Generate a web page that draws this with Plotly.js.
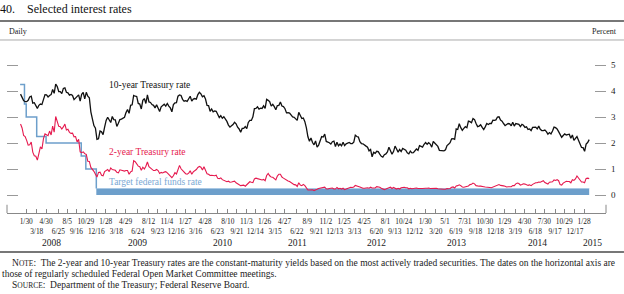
<!DOCTYPE html>
<html><head><meta charset="utf-8">
<script src="https://cdn.plot.ly/plotly-3.0.1.min.js"></script>
<style>html,body{margin:0;padding:0;background:#fff;}#chart{width:624px;height:294px;}</style>
</head><body><div id="chart"></div>
<script>
// Weekly (Friday) readings, by year; first Friday of each year given
const firstFridays = ['2008-01-04','2009-01-02','2010-01-01','2011-01-07','2012-01-06','2013-01-04','2014-01-03','2015-01-02'];

const tenYr2008 = [3.88,3.78,3.63,3.59,3.59,3.64,3.77,3.80,3.53,3.55,3.45,3.33,3.45,3.50,3.48,3.72,3.86,3.85,3.77,3.83,3.86,4.06,3.91,4.27,4.17,3.98,3.98,3.90,4.10,4.12,3.95,3.93,3.84,3.87,3.83,3.67,3.72,3.80,3.85,3.61,3.87,3.95,3.70,3.95,3.80,3.74,3.20,2.93,2.67,2.57,2.14,2.16];
const tenYr2009 = [2.46,2.43,2.32,2.61,2.87,2.99,2.89,2.79,3.02,2.90,2.89,2.64,2.76,2.90,2.92,2.95,2.99,3.17,3.29,3.14,3.45,3.47,3.83,3.80,3.79,3.52,3.50,3.31,3.64,3.71,3.52,3.85,3.58,3.56,3.48,3.45,3.35,3.47,3.32,3.21,3.39,3.44,3.49,3.42,3.52,3.42,3.35,3.20,3.48,3.54,3.55,3.80];
const tenYr2010 = [3.85,3.83,3.68,3.61,3.63,3.60,3.69,3.80,3.61,3.69,3.71,3.69,3.86,3.95,3.89,3.78,3.82,3.69,3.45,3.44,3.22,3.31,3.20,3.23,3.22,3.12,2.98,3.05,2.95,3.01,2.94,2.83,2.69,2.61,2.66,2.71,2.80,2.74,2.61,2.54,2.41,2.56,2.56,2.63,2.55,2.79,2.87,2.87,3.01,3.32,3.33,3.39,3.30];
const tenYr2011 = [3.34,3.33,3.43,3.33,3.68,3.64,3.59,3.42,3.49,3.40,3.28,3.44,3.45,3.58,3.42,3.40,3.32,3.16,3.17,3.15,3.07,3.00,2.99,2.94,2.87,3.18,3.03,2.94,2.96,2.82,2.58,2.24,2.07,2.19,2.02,1.93,2.08,1.84,1.92,2.08,2.25,2.23,2.34,2.06,2.04,2.01,1.96,2.05,2.07,1.86,2.03,1.89];
const tenYr2012 = [1.96,1.89,2.03,1.90,1.97,2.00,2.02,1.98,1.98,2.03,2.30,2.25,2.23,2.05,1.98,1.97,1.94,1.88,1.84,1.70,1.75,1.47,1.64,1.60,1.68,1.67,1.57,1.49,1.46,1.55,1.58,1.66,1.84,1.69,1.57,1.67,1.88,1.77,1.65,1.75,1.67,1.79,1.76,1.72,1.62,1.58,1.69,1.62,1.63,1.72,1.77,1.72];
const tenYr2013 = [1.90,1.87,1.84,1.95,2.02,1.95,2.01,1.96,1.84,2.06,1.99,1.93,1.87,1.72,1.72,1.70,1.70,1.74,1.90,1.95,2.01,2.16,2.17,2.14,2.54,2.52,2.74,2.59,2.49,2.56,2.63,2.59,2.84,2.82,2.78,2.94,2.90,2.75,2.63,2.65,2.70,2.60,2.52,2.62,2.75,2.71,2.75,2.75,2.88,2.87,2.89,3.00];
const tenYr2014 = [3.01,2.88,2.84,2.75,2.67,2.71,2.75,2.74,2.66,2.80,2.65,2.75,2.74,2.72,2.63,2.72,2.68,2.60,2.62,2.52,2.54,2.48,2.60,2.61,2.61,2.54,2.65,2.53,2.48,2.48,2.50,2.44,2.34,2.40,2.35,2.46,2.61,2.59,2.54,2.44,2.31,2.22,2.29,2.35,2.31,2.32,2.34,2.18,2.31,2.10,2.17,2.25];
const tenYr2015 = [2.11,1.98,1.83,1.82,1.68,1.96,2.02,2.13];

const twoYr2008 = [2.73,2.58,2.29,2.25,2.10,1.92,1.93,2.04,1.65,1.51,1.49,1.34,1.59,1.85,1.77,2.17,2.35,2.32,2.28,2.46,2.31,2.65,2.42,3.02,2.85,2.64,2.63,2.54,2.62,2.73,2.50,2.53,2.41,2.37,2.38,2.24,2.25,2.04,2.14,1.66,1.63,1.66,1.59,1.56,1.30,1.29,1.06,1.00,0.91,0.80,0.69,0.87];
const twoYr2009 = [0.88,0.76,0.74,0.90,0.94,0.98,0.90,1.04,0.98,0.95,0.95,0.87,0.85,0.97,0.95,0.93,0.92,0.94,0.94,0.80,0.89,0.92,1.32,1.28,1.17,1.11,1.09,0.95,1.07,1.00,1.11,1.27,1.09,1.03,0.97,0.94,0.94,0.98,0.94,0.83,0.87,0.85,0.88,0.90,0.85,0.80,0.74,0.67,0.74,0.86,0.81,1.00];
const twoYr2010 = [1.14,1.01,0.94,0.86,0.82,0.80,0.84,0.93,0.80,0.89,0.93,0.98,1.06,1.10,1.07,0.96,1.09,0.97,0.82,0.80,0.75,0.76,0.74,0.74,0.76,0.64,0.63,0.66,0.59,0.56,0.55,0.51,0.53,0.49,0.50,0.51,0.53,0.47,0.44,0.42,0.36,0.37,0.38,0.34,0.39,0.44,0.51,0.49,0.48,0.62,0.65,0.63,0.61];
const twoYr2011 = [0.60,0.58,0.60,0.55,0.75,0.83,0.74,0.69,0.68,0.62,0.58,0.73,0.80,0.80,0.69,0.65,0.61,0.56,0.54,0.52,0.48,0.43,0.40,0.39,0.33,0.47,0.38,0.36,0.41,0.36,0.27,0.19,0.19,0.20,0.20,0.17,0.21,0.22,0.25,0.27,0.28,0.29,0.30,0.24,0.23,0.25,0.27,0.27,0.23,0.23,0.29,0.24];
const twoYr2012 = [0.26,0.23,0.26,0.21,0.23,0.26,0.30,0.30,0.29,0.31,0.37,0.36,0.33,0.31,0.27,0.26,0.26,0.27,0.28,0.26,0.30,0.27,0.27,0.27,0.32,0.31,0.30,0.26,0.23,0.21,0.23,0.27,0.28,0.30,0.25,0.29,0.26,0.23,0.26,0.23,0.28,0.30,0.30,0.28,0.28,0.24,0.26,0.24,0.25,0.24,0.27,0.25];
const twoYr2013 = [0.26,0.25,0.25,0.27,0.26,0.26,0.27,0.25,0.25,0.27,0.25,0.26,0.24,0.23,0.22,0.23,0.22,0.22,0.25,0.24,0.25,0.30,0.31,0.27,0.35,0.36,0.39,0.36,0.31,0.30,0.32,0.32,0.35,0.40,0.41,0.46,0.43,0.36,0.34,0.34,0.34,0.34,0.32,0.31,0.31,0.30,0.29,0.28,0.30,0.32,0.35,0.39];
const twoYr2014 = [0.40,0.37,0.37,0.35,0.34,0.31,0.32,0.33,0.32,0.36,0.36,0.43,0.46,0.44,0.38,0.40,0.43,0.42,0.38,0.37,0.39,0.36,0.41,0.45,0.47,0.47,0.50,0.49,0.53,0.55,0.48,0.46,0.42,0.49,0.49,0.51,0.58,0.56,0.59,0.55,0.40,0.38,0.46,0.50,0.53,0.52,0.52,0.47,0.59,0.56,0.62,0.73];
const twoYr2015 = [0.66,0.58,0.50,0.50,0.47,0.64,0.65,0.63];

// Target federal funds rate (step) and 0 to 1/4 percent range
const ffrDates = ['2008-01-02','2008-01-22','2008-01-30','2008-03-18','2008-04-30','2008-10-08','2008-10-29','2008-12-16'];
const ffrTargets = [4.25,3.50,3.00,2.25,2.00,1.50,1.00,0.25];
const rangeDates = ['2008-12-16','2015-02-20'];
const rangeLow = [0,0];
const rangeHigh = [0.25,0.25];

// FOMC meeting dates (axis ticks)
const fomcDates = ['2008-01-30','2008-03-18','2008-04-30','2008-06-25','2008-08-05','2008-09-16','2008-10-29','2008-12-16',
'2009-01-28','2009-03-18','2009-04-29','2009-06-24','2009-08-12','2009-09-23','2009-11-04','2009-12-16',
'2010-01-27','2010-03-16','2010-04-28','2010-06-23','2010-08-10','2010-09-21','2010-11-03','2010-12-14',
'2011-01-26','2011-03-15','2011-04-27','2011-06-22','2011-08-09','2011-09-21','2011-11-02','2011-12-13',
'2012-01-25','2012-03-13','2012-04-25','2012-06-20','2012-08-01','2012-09-13','2012-10-24','2012-12-12',
'2013-01-30','2013-03-20','2013-05-01','2013-06-19','2013-07-31','2013-09-18','2013-10-30','2013-12-18',
'2014-01-29','2014-03-19','2014-04-30','2014-06-18','2014-07-30','2014-09-17','2014-10-29','2014-12-17',
'2015-01-28'];
const yearLabels = ['2008','2009','2010','2011','2012','2013','2014','2015'];
const yearLabelDates = ['2008-05-27','2009-06-21','2010-07-15','2011-06-23','2012-06-23','2013-06-24','2014-06-30','2015-03-05'];

const tenYrYears = [tenYr2008,tenYr2009,tenYr2010,tenYr2011,tenYr2012,tenYr2013,tenYr2014,tenYr2015];
const twoYrYears = [twoYr2008,twoYr2009,twoYr2010,twoYr2011,twoYr2012,twoYr2013,twoYr2014,twoYr2015];

function weeklyDates(start, n){
  const out=[]; const d0=new Date(start+'T12:00:00Z');
  for(let i=0;i<n;i++){const d=new Date(d0.getTime()+i*7*86400000); out.push(d.toISOString().slice(0,10));}
  return out;
}
function build(yearsArr){
  let xs=[],ys=[];
  yearsArr.forEach((arr,k)=>{xs=xs.concat(weeklyDates(firstFridays[k],arr.length)); ys=ys.concat(arr);});
  return {xs,ys};
}
const ten = build(tenYrYears), two = build(twoYrYears);

const tickText = fomcDates.map((d,i)=>{
  const p=d.split('-'); const s=(+p[1])+'/'+(+p[2]);
  return i%2===0 ? s : '\u00a0<br>'+s;
});

const SERIF = 'Liberation Serif, Times New Roman, serif';
const BLUE = '#6d9fcb', RED = '#e5194e';
const NOTEFONT = {family:SERIF,size:9.5,color:'#222'};

const traces = [
  {x:rangeDates, y:rangeLow, mode:'lines', line:{width:0,color:BLUE}, hoverinfo:'skip', showlegend:false},
  {x:rangeDates, y:rangeHigh, mode:'lines', fill:'tonexty', fillcolor:BLUE, line:{width:1,color:'#a9c8e4'}, hoverinfo:'skip', showlegend:false},
  {x:ffrDates, y:ffrTargets, mode:'lines', line:{shape:'hv', width:1.5, color:BLUE}, showlegend:false},
  {x:ten.xs, y:ten.ys, mode:'lines', line:{width:1.3, color:'#111'}, showlegend:false},
  {x:two.xs, y:two.ys, mode:'lines', line:{width:1.1, color:RED}, showlegend:false}
];

const annotations = [
  {text:'Daily', x:0, y:1.097, xref:'paper', yref:'paper', xanchor:'left', yanchor:'middle', showarrow:false, font:{family:SERIF,size:8,color:'#222'}},
  {text:'Percent', x:1.0217, y:1.097, xref:'paper', yref:'paper', xanchor:'right', yanchor:'middle', showarrow:false, font:{family:SERIF,size:8,color:'#222'}},
  {text:'10-year Treasury rate', x:'2009-02-04', y:4.23, xref:'x', yref:'y', xanchor:'left', yanchor:'middle', showarrow:false, font:{family:SERIF,size:9.5,color:'#111'}},
  {text:'2-year Treasury rate', x:'2009-02-04', y:1.65, xref:'x', yref:'y', xanchor:'left', yanchor:'middle', showarrow:false, font:{family:SERIF,size:9.5,color:RED}},
  {text:'Target federal funds rate', x:'2009-02-04', y:0.5, xref:'x', yref:'y', xanchor:'left', yanchor:'middle', showarrow:false, font:{family:SERIF,size:9.5,color:'#7aa8d4'}},
  {text:'N<span style="font-size:7.5px">OTE</span>:  The 2-year and 10-year Treasury rates are the constant-maturity yields based on the most actively traded securities. The dates on the horizontal axis are', x:0.005, y:-0.303, xref:'paper', yref:'paper', xanchor:'left', yanchor:'middle', showarrow:false, font:NOTEFONT},
  {text:'those of regularly scheduled Federal Open Market Committee meetings.', x:-0.0117, y:-0.3697, xref:'paper', yref:'paper', xanchor:'left', yanchor:'middle', showarrow:false, font:NOTEFONT},
  {text:'S<span style="font-size:7.5px">OURCE</span>:  Department of the Treasury; Federal Reserve Board.', x:0.005, y:-0.436, xref:'paper', yref:'paper', xanchor:'left', yanchor:'middle', showarrow:false, font:NOTEFONT}
];
yearLabels.forEach((t,i)=>annotations.push({text:t, x:yearLabelDates[i], y:-0.182, xref:'x', yref:'paper', xanchor:'center', yanchor:'middle', showarrow:false, font:{family:SERIF,size:9.5,color:'#222'}}));

const shapes = [
  {type:'line', xref:'paper', yref:'paper', x0:-0.0117, x1:1.03, y0:1.1636, y1:1.1636, line:{color:'#777',width:2}},
  {type:'line', xref:'paper', yref:'paper', x0:-0.0117, x1:1.03, y0:1.0485, y1:1.0485, line:{color:'#aaa',width:1}},
  {type:'line', xref:'paper', yref:'paper', x0:-0.0117, x1:1.03, y0:-0.2364, y1:-0.2364, line:{color:'#777',width:2}},
  {type:'line', xref:'paper', yref:'paper', x0:0, x1:0, y0:0, y1:0.05, line:{color:'#888',width:1}},
  {type:'line', xref:'paper', yref:'paper', x0:1, x1:1, y0:0, y1:0.05, line:{color:'#888',width:1}}
];

const layout = {
  width:624, height:294,
  margin:{l:7, r:18, t:48, b:81},
  paper_bgcolor:'#fff', plot_bgcolor:'#fff',
  title:{text:'40.\u00a0\u00a0\u00a0\u00a0Selected interest rates', x:0, xref:'container', xanchor:'left', y:0.969, yref:'container', yanchor:'middle', font:{family:SERIF,size:12,color:'#111'}},
  xaxis:{type:'date', range:['2007-11-03','2015-05-08'], tickmode:'array', tickvals:fomcDates, ticktext:tickText,
    ticks:'inside', ticklen:4, tickcolor:'#888', tickwidth:1, showline:true, linecolor:'#888', linewidth:1,
    showgrid:false, zeroline:false, tickangle:0, ticklabelstandoff:1, tickfont:{family:SERIF,size:7.4,color:'#222'}},
  yaxis:{range:[-0.692,5.654], side:'right', tickvals:[0,1,2,3,4,5], ticks:'inside', ticklen:11, tickcolor:'#999',
    mirror:'ticks', showline:false, showgrid:false, zeroline:false, ticklabelstandoff:4,
    tickfont:{family:SERIF,size:9,color:'#222'}},
  annotations, shapes, showlegend:false
};
Plotly.newPlot('chart', traces, layout, {staticPlot:true, displayModeBar:false});
</script></body></html>
